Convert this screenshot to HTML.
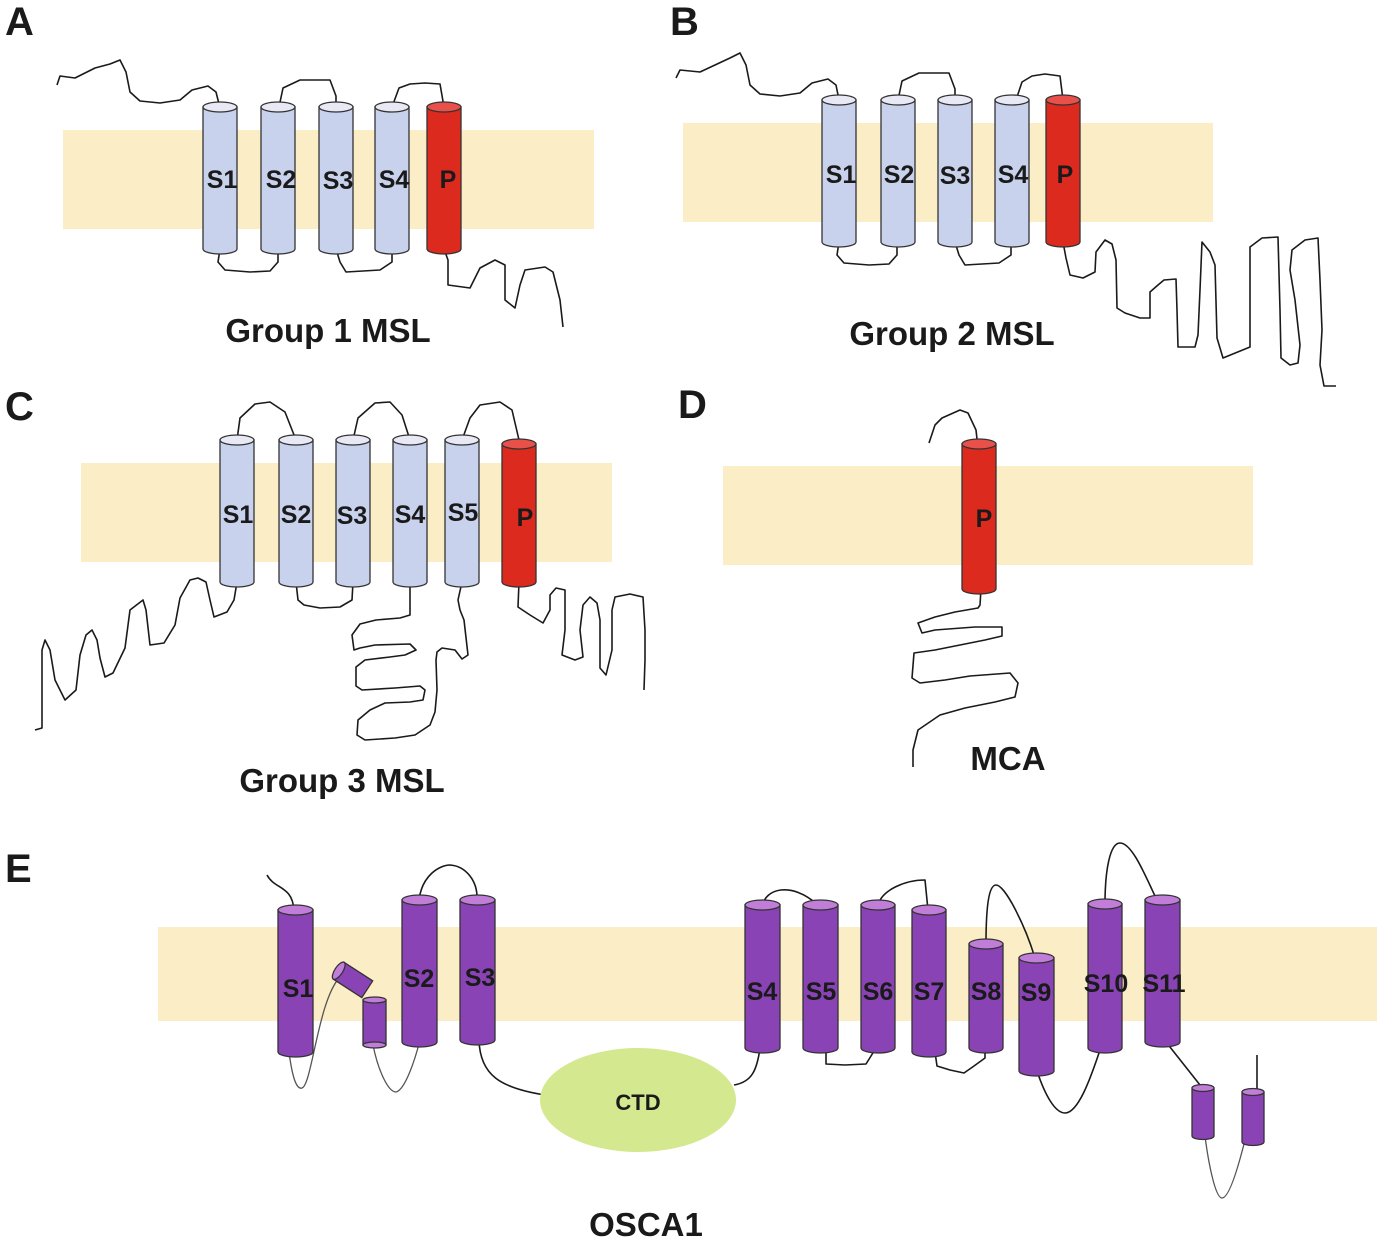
<!DOCTYPE html>
<html><head><meta charset="utf-8"><style>
html,body{margin:0;padding:0;background:#fff}
svg{display:block}
text{font-family:"Liberation Sans",Arial,sans-serif;font-weight:bold;fill:#1a1a1a}
.l{fill:none;stroke:#1a1a1a;stroke-width:1.6;stroke-linejoin:round}
.g{fill:none;stroke:#555;stroke-width:1.3}
.cb{fill:#c9d2ec;stroke:#333;stroke-width:1.3}
.ct{fill:#e8e9f5;stroke:#333;stroke-width:1.3}
.rb{fill:#dc2a1e;stroke:#333;stroke-width:1.3}
.rt{fill:#e9504a;stroke:#333;stroke-width:1.3}
.pb{fill:#8a43b5;stroke:#333;stroke-width:1.3}
.pt{fill:#c17ed9;stroke:#333;stroke-width:1.3}
.m{fill:#fbedc6}
.lab{font-size:25px}
.ttl{font-size:33px}
.big{font-size:40px}
</style></head><body>
<svg width="1382" height="1243" viewBox="0 0 1382 1243" xmlns="http://www.w3.org/2000/svg">
<text x="5" y="35" class="big">A</text>
<text x="670" y="35" class="big">B</text>
<text x="5" y="420" class="big">C</text>
<text x="678" y="418" class="big">D</text>
<text x="5" y="882" class="big">E</text>

<rect class="m" x="63" y="130" width="531" height="99"/>
<rect class="m" x="683" y="123" width="530" height="99"/>
<rect class="m" x="81" y="463" width="531" height="99"/>
<rect class="m" x="723" y="466" width="530" height="99"/>
<rect class="m" x="158" y="927" width="1219" height="94"/>

<!-- A -->
<path class="l" d="M57,85 L60,76 L75,78 L95,68 L110,64 L120,60 L126,72 L130,92 L140,101 L160,103 L180,100 L192,90 L208,86 L216,92 L220,108"/>
<path class="l" d="M220,249 L218,262 L225,270 L250,272 L270,271 L278,262 L278,249"/>
<path class="l" d="M279,107 L283,88 L300,80 L330,80 L336,96 L336,107"/>
<path class="l" d="M336,249 L340,262 L346,272 L380,270 L392,262 L392,249"/>
<path class="l" d="M392,107 L399,88 L410,84 L425,83 L440,84 L444,107"/>
<path class="l" d="M444,249 L448,260 L448,285 L470,288 L480,268 L495,260 L505,265 L505,300 L515,308 L520,285 L525,270 L545,267 L553,272 L560,300 L563,327"/>
<path class="cb" d="M203,107 L203,249 A17,5 0 0 0 237,249 L237,107 Z"/><ellipse class="ct" cx="220" cy="107" rx="17" ry="5"/>
<path class="cb" d="M261,107 L261,249 A17,5 0 0 0 295,249 L295,107 Z"/><ellipse class="ct" cx="278" cy="107" rx="17" ry="5"/>
<path class="cb" d="M319,107 L319,249 A17,5 0 0 0 353,249 L353,107 Z"/><ellipse class="ct" cx="336" cy="107" rx="17" ry="5"/>
<path class="cb" d="M375,107 L375,249 A17,5 0 0 0 409,249 L409,107 Z"/><ellipse class="ct" cx="392" cy="107" rx="17" ry="5"/>
<path class="rb" d="M427,107 L427,249 A17,5 0 0 0 461,249 L461,107 Z"/><ellipse class="rt" cx="444" cy="107" rx="17" ry="5"/>
<text x="222" y="188" class="lab" text-anchor="middle">S1</text>
<text x="281" y="188" class="lab" text-anchor="middle">S2</text>
<text x="338" y="189" class="lab" text-anchor="middle">S3</text>
<text x="394" y="188" class="lab" text-anchor="middle">S4</text>
<text x="448" y="188" class="lab" text-anchor="middle">P</text>
<text x="328" y="342" class="ttl" text-anchor="middle">Group 1 MSL</text>

<!-- B -->
<path class="l" d="M676,78 L680,70 L700,72 L715,65 L730,58 L740,53 L746,65 L750,85 L760,94 L780,96 L800,93 L812,83 L828,79 L836,85 L839,100"/>
<path class="l" d="M839,242 L837,255 L844,263 L869,265 L889,264 L897,255 L897,242"/>
<path class="l" d="M898,100 L902,81 L919,73 L949,73 L955,89 L955,100"/>
<path class="l" d="M955,242 L959,255 L965,265 L999,263 L1011,255 L1011,242"/>
<path class="l" d="M1016,100 L1022,82 L1032,76 L1045,74 L1060,76 L1063,100"/>
<path class="l" d="M1063,242 L1066,258 L1070,275 L1083,278 L1095,272 L1096,252 L1105,240 L1112,244 L1116,260 L1117,308 L1125,313 L1140,318 L1150,318 L1150,292 L1158,285 L1164,280 L1176,279 L1177,310 L1178,347 L1195,347 L1198,335 L1200,290 L1202,242 L1210,252 L1215,265 L1217,338 L1223,358 L1250,347 L1250,247 L1262,238 L1278,237 L1280,310 L1281,358 L1290,365 L1298,363 L1300,345 L1295,300 L1290,270 L1292,250 L1305,240 L1318,238 L1320,280 L1322,330 L1320,365 L1324,386 L1336,386"/>
<path class="cb" d="M822,100 L822,242 A17,5 0 0 0 856,242 L856,100 Z"/><ellipse class="ct" cx="839" cy="100" rx="17" ry="5"/>
<path class="cb" d="M881,100 L881,242 A17,5 0 0 0 915,242 L915,100 Z"/><ellipse class="ct" cx="898" cy="100" rx="17" ry="5"/>
<path class="cb" d="M938,100 L938,242 A17,5 0 0 0 972,242 L972,100 Z"/><ellipse class="ct" cx="955" cy="100" rx="17" ry="5"/>
<path class="cb" d="M995,100 L995,242 A17,5 0 0 0 1029,242 L1029,100 Z"/><ellipse class="ct" cx="1012" cy="100" rx="17" ry="5"/>
<path class="rb" d="M1046,100 L1046,242 A17,5 0 0 0 1080,242 L1080,100 Z"/><ellipse class="rt" cx="1063" cy="100" rx="17" ry="5"/>
<text x="841" y="183" class="lab" text-anchor="middle">S1</text>
<text x="899" y="183" class="lab" text-anchor="middle">S2</text>
<text x="955" y="184" class="lab" text-anchor="middle">S3</text>
<text x="1013" y="183" class="lab" text-anchor="middle">S4</text>
<text x="1065" y="183" class="lab" text-anchor="middle">P</text>
<text x="952" y="345" class="ttl" text-anchor="middle">Group 2 MSL</text>

<!-- C -->
<path class="l" d="M237,440 L240,418 L255,404 L270,402 L285,412 L296,440"/>
<path class="l" d="M237,582 L234,600 L227,612 L214,617 L210,600 L206,582 L198,578 L190,580 L180,598 L175,625 L164,643 L150,645 L146,610 L143,600 L130,610 L125,648 L113,673 L105,677 L100,658 L97,640 L92,630 L86,635 L80,655 L76,690 L65,700 L55,680 L50,650 L45,640 L42,650 L42,728 L35,730"/>
<path class="l" d="M296,582 L298,600 L304,605 L320,608 L340,607 L352,600 L353,582"/>
<path class="l" d="M353,440 L358,418 L375,403 L390,402 L402,415 L410,440"/>
<path class="l" d="M410,582 L410,615 L400,618 L376,620 L360,624 L352,635 L354,650 L360,648 L375,645 L410,644 L416,650 L405,655 L390,657 L365,660 L356,667 L356,686 L362,690 L395,688 L420,686 L425,690 L423,700 L410,702 L385,703 L370,710 L358,720 L357,735 L365,740 L395,738 L415,735 L430,725 L435,712 L437,690 L436,660 L437,652 L442,648 L455,650 L462,659 L468,655 L464,620 L460,610 L458,600 L462,582"/>
<path class="l" d="M462,440 L470,418 L480,405 L500,402 L512,410 L519,440"/>
<path class="l" d="M519,582 L518,607 L530,615 L543,623 L550,610 L550,595 L556,588 L565,590 L565,630 L562,655 L575,660 L583,657 L580,630 L583,605 L590,597 L597,603 L600,620 L600,668 L606,675 L612,650 L612,610 L615,597 L630,594 L643,597 L645,630 L645,660 L644,690"/>
<path class="cb" d="M220,440 L220,582 A17,5 0 0 0 254,582 L254,440 Z"/><ellipse class="ct" cx="237" cy="440" rx="17" ry="5"/>
<path class="cb" d="M279,440 L279,582 A17,5 0 0 0 313,582 L313,440 Z"/><ellipse class="ct" cx="296" cy="440" rx="17" ry="5"/>
<path class="cb" d="M336,440 L336,582 A17,5 0 0 0 370,582 L370,440 Z"/><ellipse class="ct" cx="353" cy="440" rx="17" ry="5"/>
<path class="cb" d="M393,440 L393,582 A17,5 0 0 0 427,582 L427,440 Z"/><ellipse class="ct" cx="410" cy="440" rx="17" ry="5"/>
<path class="cb" d="M445,440 L445,582 A17,5 0 0 0 479,582 L479,440 Z"/><ellipse class="ct" cx="462" cy="440" rx="17" ry="5"/>
<path class="rb" d="M502,444 L502,582 A17,5 0 0 0 536,582 L536,444 Z"/><ellipse class="rt" cx="519" cy="444" rx="17" ry="5"/>
<text x="238" y="523" class="lab" text-anchor="middle">S1</text>
<text x="296" y="523" class="lab" text-anchor="middle">S2</text>
<text x="352" y="524" class="lab" text-anchor="middle">S3</text>
<text x="410" y="523" class="lab" text-anchor="middle">S4</text>
<text x="463" y="521" class="lab" text-anchor="middle">S5</text>
<text x="525" y="526" class="lab" text-anchor="middle">P</text>
<text x="342" y="792" class="ttl" text-anchor="middle">Group 3 MSL</text>

<!-- D -->
<path class="l" d="M929,443 L935,425 L942,418 L960,410 L968,413 L976,430 L978,448"/>
<path class="l" d="M981,589 L980,605 L978,608 L955,612 L935,617 L918,623 L922,633 L935,630 L975,627 L1002,627 L1002,636 L985,640 L960,645 L935,650 L914,653 L912,678 L920,683 L945,680 L970,676 L1010,673 L1018,683 L1015,697 L995,702 L965,708 L940,715 L918,730 L913,750 L913,767"/>
<path class="rb" d="M962,444 L962,589 A17,5 0 0 0 996,589 L996,444 Z"/><ellipse class="rt" cx="979" cy="444" rx="17" ry="5"/>
<text x="984" y="527" class="lab" text-anchor="middle">P</text>
<text x="1008" y="770" class="ttl" text-anchor="middle">MCA</text>

<!-- E -->
<path class="l" d="M267,875 C275,890 292,885 294,910"/>
<path class="g" d="M289,1052 C292,1075 296,1090 302,1088 C312,1085 318,1000 340,977"/>
<path class="g" d="M373,1045 C378,1070 388,1092 396,1092 C405,1090 415,1060 420,1040"/>
<path class="l" d="M419,900 C422,875 440,865 450,865 C465,866 478,880 477,900"/>
<path class="l" d="M479,1040 C480,1075 500,1088 545,1095"/>
<path class="l" d="M734,1085 C752,1082 757,1070 760,1048"/>
<path class="l" d="M763,905 C765,890 790,880 818,905"/>
<path class="l" d="M826,1048 L826,1064 L845,1065 L866,1064 L876,1048"/>
<path class="l" d="M878,905 C882,890 905,880 925,880 L928,910"/>
<path class="l" d="M935,1052 L937,1066 L950,1070 L964,1073 L974,1066 L985,1058 L985,1048"/>
<path class="l" d="M986,944 C986,900 990,885 996,885 C1005,885 1025,925 1035,958"/>
<path class="l" d="M1037,1071 C1045,1095 1055,1113 1065,1113 C1078,1113 1090,1080 1100,1050"/>
<path class="l" d="M1105,904 C1105,870 1110,843 1120,843 C1132,843 1145,875 1155,896"/>
<path class="l" d="M1166,1042 L1200,1085"/>
<path class="g" d="M1205,1136 C1208,1160 1215,1198 1222,1198 C1230,1198 1240,1160 1245,1140"/>
<path class="l" d="M1257,1092 L1257,1055"/>
<path class="pb" d="M278,910 L278,1052 A17.5,5 0 0 0 313,1052 L313,910 Z"/><ellipse class="pt" cx="295.5" cy="910" rx="17.5" ry="5"/>
<g transform="rotate(33 353 980)"><rect class="pb" x="336" y="970" width="34" height="20"/><ellipse class="pt" cx="336" cy="980" rx="4" ry="10"/></g>
<path class="pb" d="M363,1000 L363,1045 L386,1045 L386,1000 Z"/><ellipse class="pt" cx="374.5" cy="1000" rx="11.5" ry="3"/><ellipse class="pt" cx="374.5" cy="1045" rx="11.5" ry="3"/>
<path class="pb" d="M402,900 L402,1042 A17.5,5 0 0 0 437,1042 L437,900 Z"/><ellipse class="pt" cx="419.5" cy="900" rx="17.5" ry="5"/>
<path class="pb" d="M460,900 L460,1040 A17.5,5 0 0 0 495,1040 L495,900 Z"/><ellipse class="pt" cx="477.5" cy="900" rx="17.5" ry="5"/>
<path class="pb" d="M745,905 L745,1048 A17.5,5 0 0 0 780,1048 L780,905 Z"/><ellipse class="pt" cx="762.5" cy="905" rx="17.5" ry="5"/>
<path class="pb" d="M803,905 L803,1048 A17.5,5 0 0 0 838,1048 L838,905 Z"/><ellipse class="pt" cx="820.5" cy="905" rx="17.5" ry="5"/>
<path class="pb" d="M861,905 L861,1048 A17,5 0 0 0 895,1048 L895,905 Z"/><ellipse class="pt" cx="878" cy="905" rx="17" ry="5"/>
<path class="pb" d="M912,910 L912,1052 A17,5 0 0 0 946,1052 L946,910 Z"/><ellipse class="pt" cx="929" cy="910" rx="17" ry="5"/>
<path class="pb" d="M969,944 L969,1048 A17,5 0 0 0 1003,1048 L1003,944 Z"/><ellipse class="pt" cx="986" cy="944" rx="17" ry="5"/>
<path class="pb" d="M1019,958 L1019,1071 A17.5,5 0 0 0 1054,1071 L1054,958 Z"/><ellipse class="pt" cx="1036.5" cy="958" rx="17.5" ry="5"/>
<path class="pb" d="M1088,904 L1088,1048 A17,5 0 0 0 1122,1048 L1122,904 Z"/><ellipse class="pt" cx="1105" cy="904" rx="17" ry="5"/>
<path class="pb" d="M1145,900 L1145,1042 A17.5,5 0 0 0 1180,1042 L1180,900 Z"/><ellipse class="pt" cx="1162.5" cy="900" rx="17.5" ry="5"/>
<path class="pb" d="M1192,1088 L1192,1136 A11,3.5 0 0 0 1214,1136 L1214,1088 Z"/><ellipse class="pt" cx="1203" cy="1088" rx="11" ry="3.5"/>
<path class="pb" d="M1242,1092 L1242,1142 A11,3.5 0 0 0 1264,1142 L1264,1092 Z"/><ellipse class="pt" cx="1253" cy="1092" rx="11" ry="3.5"/>
<ellipse cx="638" cy="1100" rx="98" ry="52" fill="#d4e88f"/>
<text x="638" y="1110" class="lab" text-anchor="middle" style="font-size:22px">CTD</text>
<text x="298" y="997" class="lab" text-anchor="middle">S1</text>
<text x="419" y="987" class="lab" text-anchor="middle">S2</text>
<text x="480" y="986" class="lab" text-anchor="middle">S3</text>
<text x="762" y="1000" class="lab" text-anchor="middle">S4</text>
<text x="821" y="1000" class="lab" text-anchor="middle">S5</text>
<text x="878" y="1000" class="lab" text-anchor="middle">S6</text>
<text x="929" y="1000" class="lab" text-anchor="middle">S7</text>
<text x="986" y="1000" class="lab" text-anchor="middle">S8</text>
<text x="1036" y="1001" class="lab" text-anchor="middle">S9</text>
<text x="1106" y="992" class="lab" text-anchor="middle">S10</text>
<text x="1164" y="992" class="lab" text-anchor="middle">S11</text>
<text x="646" y="1236" class="ttl" text-anchor="middle">OSCA1</text>
</svg>
</body></html>
